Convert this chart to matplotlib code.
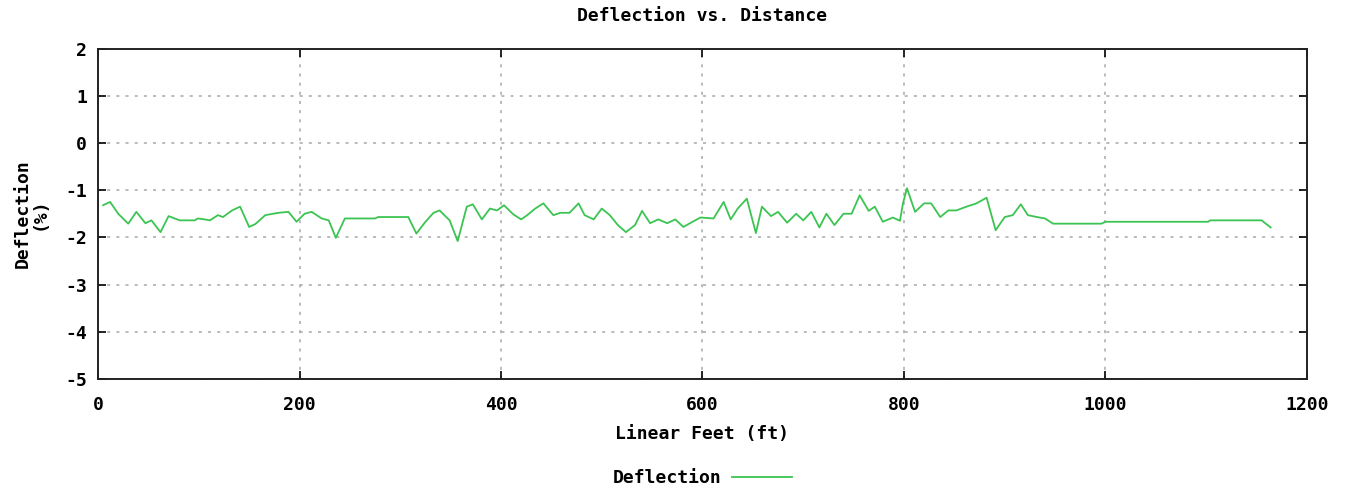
import matplotlib
matplotlib.use("Agg")
import matplotlib.pyplot as plt

plt.rcParams["axes.unicode_minus"] = False

# distance along the run (ft) and measured deflection (%)
feet = [5, 12, 20, 30, 38, 47, 53, 62, 70, 81, 96, 99, 106, 111, 119, 124, 133, 141,
        150, 156, 166, 179, 189, 197, 205, 212, 222, 229, 236, 245, 275, 278, 308, 316,
        325, 333, 339, 349, 357, 366, 372, 381, 389, 396, 403, 412, 420, 426, 434, 442,
        452, 459, 468, 477, 483, 492, 500, 508, 516, 524, 533, 540, 548, 556, 565, 573,
        581, 591, 598, 611, 621, 628, 635, 644, 653, 659, 668, 675, 684, 693, 700, 708,
        716, 723, 731, 740, 748, 756, 765, 771, 779, 789, 796, 799, 803, 811, 820, 827,
        836, 844, 852, 862, 872, 882, 891, 900, 908, 916, 923, 932, 940, 948, 996, 1000,
        1102, 1104, 1155, 1164]
deflection = [-1.32, -1.25, -1.50, -1.71, -1.46, -1.70, -1.64, -1.89, -1.55, -1.64,
              -1.64, -1.60, -1.62, -1.64, -1.53, -1.57, -1.43, -1.35, -1.78, -1.72,
              -1.53, -1.48, -1.46, -1.67, -1.50, -1.46, -1.60, -1.64, -2.01, -1.60,
              -1.60, -1.57, -1.57, -1.92, -1.67, -1.48, -1.43, -1.64, -2.08, -1.35,
              -1.30, -1.62, -1.39, -1.43, -1.32, -1.51, -1.62, -1.53, -1.39, -1.28,
              -1.53, -1.48, -1.48, -1.28, -1.53, -1.62, -1.39, -1.53, -1.74, -1.89,
              -1.74, -1.44, -1.70, -1.62, -1.70, -1.62, -1.78, -1.66, -1.58, -1.60,
              -1.25, -1.62, -1.39, -1.18, -1.91, -1.35, -1.55, -1.46, -1.69, -1.50,
              -1.64, -1.46, -1.79, -1.50, -1.74, -1.50, -1.50, -1.11, -1.44, -1.35,
              -1.67, -1.58, -1.65, -1.28, -0.96, -1.46, -1.28, -1.28, -1.57, -1.43,
              -1.43, -1.35, -1.28, -1.16, -1.85, -1.57, -1.53, -1.30, -1.53, -1.57,
              -1.60, -1.71, -1.71, -1.67, -1.67, -1.64, -1.64, -1.79]

LINE_COLOR = "#3cc452"
FONT = dict(family="DejaVu Sans Mono", fontweight="bold")

fig = plt.figure(figsize=(13.45, 4.88), dpi=100)
ax = fig.add_axes([0.0729, 0.2234, 0.8988, 0.6772])

ax.plot(feet, deflection, "-", color=LINE_COLOR, linewidth=1.3, label="Deflection")

ax.set_xlim(0, 1200)
ax.set_ylim(-5, 2)
ax.set_xticks(range(0, 1201, 200))
ax.set_yticks(range(-5, 3))

ax.grid(True, color="#a8a8a8", linestyle=(0, (2, 4)), linewidth=1.1)
ax.tick_params(direction="in", length=6, width=1.2, top=True, right=True,
               labelsize=13, pad=8)
ax.tick_params(axis="x", pad=12)
for lab in ax.get_xticklabels() + ax.get_yticklabels():
    lab.set_fontfamily("DejaVu Sans Mono")
    lab.set_fontweight("bold")
for sp in ax.spines.values():
    sp.set_linewidth(1.4)
    sp.set_color("#222222")

ax.set_title("Deflection vs. Distance", fontsize=13, pad=20, **FONT)
ax.set_xlabel("Linear Feet (ft)", fontsize=13, labelpad=8, **FONT)
ax.set_ylabel("Deflection\n(%)", fontsize=13, labelpad=12, linespacing=0.9, **FONT)

leg = ax.legend(loc="center", bbox_to_anchor=(0.5, -0.3), frameon=False,
                markerfirst=False, handlelength=3.3, handletextpad=0.6,
                prop=dict(family="DejaVu Sans Mono", weight="bold", size=13))

fig.savefig("out.png", dpi=100)
